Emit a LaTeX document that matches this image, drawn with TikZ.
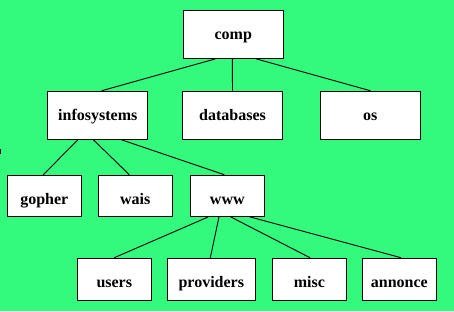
\documentclass[tikz,border=0pt]{standalone}
\usepackage{fontspec}
\setmainfont{Liberation Serif}
\usetikzlibrary{calc}
\definecolor{bggreen}{RGB}{51,249,124}
\tikzset{
  box/.style={draw=black, fill=white, line width=1.2pt, inner sep=0pt, rectangle,
    font=\fontsize{16}{18}\selectfont\bfseries, text depth=0pt},
  big/.style={box, minimum width=100pt, minimum height=48pt, text height=10.5pt},
  mid/.style={box, minimum width=74pt, minimum height=41pt, text height=17pt},
  low/.style={box, minimum width=74pt, minimum height=42pt, text height=16pt},
  link/.style={draw=black, line width=0.9pt}
}
\begin{document}
\begin{tikzpicture}[x=1pt,y=-1pt]
\fill[bggreen] (0,0) rectangle (454,311);
\useasboundingbox (0,0) rectangle (454,311);
\fill[black] (0,148.7) rectangle (1.2,153.7);
\node[big] (comp) at (233.3,34.3) {comp};
\node[big] (info) at (97.8,115.3) {infosystems};
\node[big] (db) at (232.5,115.3) {databases};
\node[big] (os) at (370.3,115.3) {os};
\node[mid] (gopher) at (44.3,195.8) {gopher};
\node[mid] (wais) at (135.3,195.8) {wais};
\node[mid] (www) at (227.3,195.8) {www};
\node[low] (users) at (114.3,279.3) {users};
\node[low, minimum width=88pt] (prov) at (211.3,279.3) {providers};
\node[low] (misc) at (309.3,279.3) {misc};
\node[low] (ann) at (399.3,279.3) {annonce};
\draw[link] ($(comp.south)+(-18,0)$) -- ($(info.north)+(4,0)$);
\draw[link] ($(comp.south)+(-1,0)$) -- ($(db.north)+(0,0)$);
\draw[link] ($(comp.south)+(23,0)$) -- ($(os.north)+(0,0)$);
\draw[link] ($(info.south)+(-20,0)$) -- ($(gopher.north)+(-1,0)$);
\draw[link] ($(info.south)+(-4.3,0)$) -- ($(wais.north)+(-6,0)$);
\draw[link] ($(info.south)+(24,0)$) -- ($(www.north)+(-3,0)$);
\draw[link] ($(www.south)+(-19,0)$) -- ($(users.north)+(0,0)$);
\draw[link] ($(www.south)+(-8.3,0)$) -- ($(prov.north)+(-1,0)$);
\draw[link] ($(www.south)+(3.4,0)$) -- ($(misc.north)+(0.7,0)$);
\draw[link] ($(www.south)+(22.7,0)$) -- ($(ann.north)+(1.7,0)$);
\end{tikzpicture}
\end{document}
